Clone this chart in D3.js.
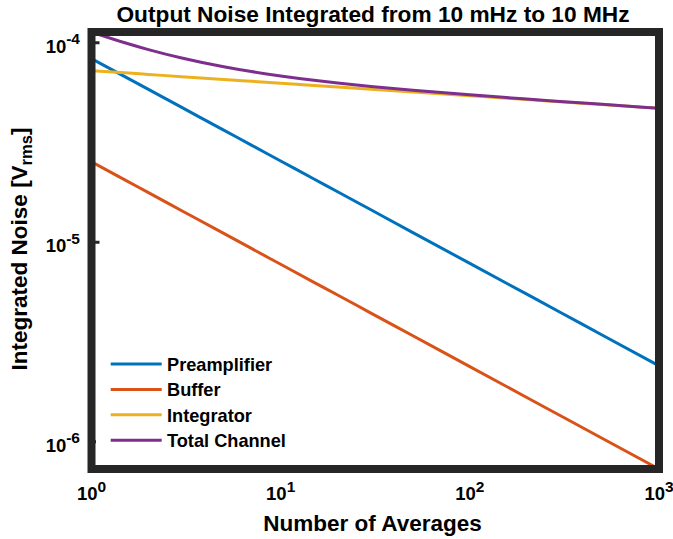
<!DOCTYPE html>
<html><head><meta charset="utf-8">
<script src="https://cdn.jsdelivr.net/npm/d3@7"></script>
<style>
body{margin:0;background:#fff}
text{font-family:"Liberation Sans",Arial,Helvetica,sans-serif;font-weight:bold;fill:#000}
</style>
</head><body>
<svg id="c" width="673" height="539"></svg>
<script>
const averages = [1,1.5,2,3,5,7,10,15,20,30,50,100,200,300,500,1000];
const preamplifier = [8.28e-5,6.729e-5,5.805e-5,4.714e-5,3.627e-5,3.051e-5,2.541e-5,2.063e-5,1.781e-5,1.446e-5,1.112e-5,7.79e-6,5.46e-6,4.435e-6,3.41e-6,2.39e-6];
const buffer = [2.514e-5,2.043e-5,1.762e-5,1.431e-5,1.101e-5,9.26e-6,7.71e-6,6.26e-6,5.41e-6,4.39e-6,3.38e-6,2.365e-6,1.658e-6,1.346e-6,1.035e-6,7.26e-7];
const integrator = [7.20e-5,7.024e-5,6.897e-5,6.723e-5,6.511e-5,6.374e-5,6.232e-5,6.074e-5,5.965e-5,5.815e-5,5.632e-5,5.391e-5,5.160e-5,5.030e-5,4.871e-5,4.663e-5];
const totalChannel = [1.1257e-4,9.939e-5,9.185e-5,8.335e-5,7.534e-5,7.127e-5,6.774e-5,6.445e-5,6.249e-5,6.008e-5,5.751e-5,5.452e-5,5.192e-5,5.052e-5,4.884e-5,4.669e-5];
const seriesNames = ["Preamplifier","Buffer","Integrator","Total Channel"];
const seriesColors = ["#0072BD","#D95319","#EDB120","#7E2F8E"];
const xTickExps = [0,1,2,3];
const yTickExps = [-6,-5,-4];
const titleText = "Output Noise Integrated from 10 mHz to 10 MHz";
const xLabel = "Number of Averages";

const seriesValues = [preamplifier, buffer, integrator, totalChannel];
const svg = d3.select("#c");
const L = 91.5, R = 659, T = 32, B = 469;
const x = d3.scaleLog().domain([1,1000]).range([L,R]);
const allVals = seriesValues.flat();
const y = d3.scaleLog().domain(d3.extent(allVals)).range([B,T]);

svg.append("clipPath").attr("id","clip").append("rect")
  .attr("x",L).attr("y",T).attr("width",R-L).attr("height",B-T);

const line = d3.line().x(d=>x(d[0])).y(d=>y(d[1])).curve(d3.curveMonotoneX);
const g = svg.append("g").attr("clip-path","url(#clip)");
seriesValues.forEach((vals,i)=>{
  g.append("path").datum(averages.map((a,j)=>[a,vals[j]]))
    .attr("d",line).attr("fill","none")
    .attr("stroke",seriesColors[i]).attr("stroke-width",3)
    .attr("stroke-linejoin","round");
});

// y ticks (inward)
const yAxis = d3.axisLeft(y).tickValues(yTickExps.map(e=>Math.pow(10,e))).tickSize(-8).tickFormat("");
const ya = svg.append("g").attr("transform",`translate(${L},0)`).call(yAxis);
ya.select(".domain").remove();
ya.selectAll(".tick line").attr("stroke","#262626").attr("stroke-width",3);

// legend background
svg.append("rect").attr("x",96).attr("y",345).attr("width",200).attr("height",116).attr("fill","#fff");

// frame
svg.append("rect").attr("x",L).attr("y",T).attr("width",R-L).attr("height",B-T)
  .attr("fill","none").attr("stroke","#262626").attr("stroke-width",8);

// y tick labels
yTickExps.forEach(e=>{
  const yy = y(Math.pow(10,e));
  const t = svg.append("text").attr("x",80).attr("y",yy+10.5).attr("text-anchor","end").style("font-size","18.5px");
  t.append("tspan").text("10");
  t.append("tspan").attr("dy",-8.5).style("font-size","15.5px").text(String(e));
});
// x tick labels
xTickExps.forEach(e=>{
  const xx = x(Math.pow(10,e));
  const t = svg.append("text").attr("x",xx).attr("y",500).attr("text-anchor","middle").style("font-size","18.5px");
  t.append("tspan").text("10");
  t.append("tspan").attr("dy",-8.3).style("font-size","15.5px").text(String(e));
});

// title
svg.append("text").attr("x",373).attr("y",22).attr("text-anchor","middle").style("font-size","22.7px").text(titleText);
// x label
svg.append("text").attr("x",372.5).attr("y",530.5).attr("text-anchor","middle").style("font-size","22.5px").text(xLabel);
// y label
const yl = svg.append("text").attr("transform",`translate(27,${249}) rotate(-90)`).attr("text-anchor","middle").style("font-size","22.5px");
yl.append("tspan").text("Integrated Noise [V");
yl.append("tspan").attr("dy",5).style("font-size","16.5px").text("rms");
yl.append("tspan").attr("dy",-5).text("]");

// legend
const legY0 = 364, legDy = 25.4;
seriesNames.forEach((n,i)=>{
  const yy = legY0 + i*legDy;
  svg.append("line").attr("x1",110.7).attr("x2",161.7).attr("y1",yy).attr("y2",yy)
    .attr("stroke",seriesColors[i]).attr("stroke-width",3);
  svg.append("text").attr("x",167).attr("y",yy+7).style("font-size","18.2px").text(n);
});
</script>
</body></html>
